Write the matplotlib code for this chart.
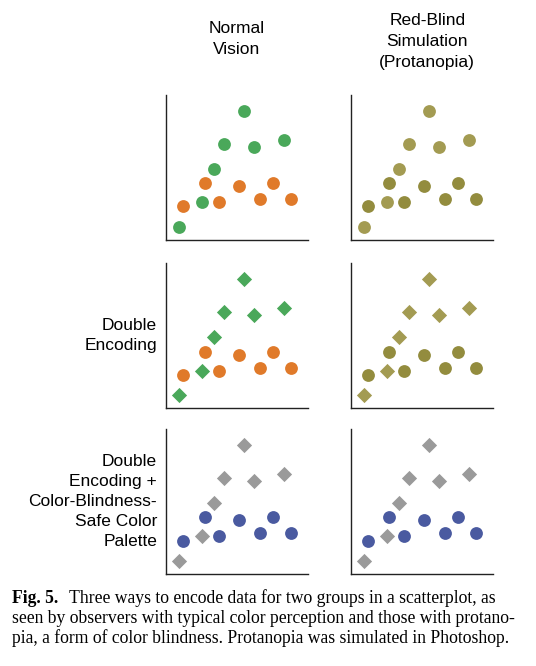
import matplotlib.pyplot as plt

# group A (green / gray diamonds) and group B (orange / blue circles)
a_x = [0.9, 2.5, 3.4, 4.1, 5.5, 6.2, 8.3]
a_y = [0.9, 2.6, 4.9, 6.6, 8.9, 6.4, 6.9]
b_x = [1.2, 2.7, 3.75, 5.1, 6.6, 7.5, 8.8]
b_y = [2.3, 3.9, 2.6, 3.7, 2.8, 3.9, 2.8]

col_titles = ["Normal\nVision", "Red-Blind\nSimulation\n(Protanopia)"]
row_labels = ["", "Double\nEncoding", "Double\nEncoding +\nColor-Blindness-\nSafe Color\nPalette"]

# (color A, marker A, color B, marker B) per row and column
styles = [
    [("#4aa85a", "o", "#e07a2a", "o"), ("#a39b52", "o", "#938c3e", "o")],
    [("#4aa85a", "D", "#e07a2a", "o"), ("#a39b52", "D", "#938c3e", "o")],
    [("#9a9a9a", "D", "#4a5aa0", "o"), ("#9a9a9a", "D", "#4a5aa0", "o")],
]

fig = plt.figure(figsize=(5.36, 6.66), dpi=100)
lefts = [0.310, 0.655]
bottoms = [0.640, 0.387, 0.138]
for r, bot in enumerate(bottoms):
    for c, left in enumerate(lefts):
        ax = fig.add_axes([left, bot, 0.265, 0.218])
        ca, ma, cb, mb = styles[r][c]
        sa = 60 if ma == "D" else 85
        ax.scatter(a_x, a_y, c=ca, marker=ma, s=sa, linewidths=0)
        ax.scatter(b_x, b_y, c=cb, marker=mb, s=85, linewidths=0)
        ax.set_xlim(0, 10)
        ax.set_ylim(0, 10)
        ax.set_xticks([])
        ax.set_yticks([])
        for s in ["top", "right"]:
            ax.spines[s].set_visible(False)
        for s in ["left", "bottom"]:
            ax.spines[s].set_color("#222222")
            ax.spines[s].set_linewidth(1.0)
    if row_labels[r]:
        fig.text(0.293, bot + 0.109, row_labels[r], ha="right", va="center",
                 fontsize=12.5, family="Liberation Sans", linespacing=1.4)

fig.text(0.442, 0.968, col_titles[0], ha="center", va="top", fontsize=12.5,
         family="Liberation Sans", linespacing=1.5)
fig.text(0.797, 0.980, col_titles[1], ha="center", va="top", fontsize=12.5,
         family="Liberation Sans", linespacing=1.5)

cap_font = "Liberation Serif"
fs = 12.7
fig.text(0.022, 0.094, "Fig. 5.", fontsize=fs, weight="bold", family=cap_font, va="baseline")
fig.text(0.128, 0.094, "Three ways to encode data for two groups in a scatterplot, as",
         fontsize=fs, family=cap_font, va="baseline")
fig.text(0.022, 0.064, "seen by observers with typical color perception and those with protano-",
         fontsize=fs, family=cap_font, va="baseline")
fig.text(0.022, 0.034, "pia, a form of color blindness. Protanopia was simulated in Photoshop.",
         fontsize=fs, family=cap_font, va="baseline")

fig.savefig("out.png", dpi=100)
